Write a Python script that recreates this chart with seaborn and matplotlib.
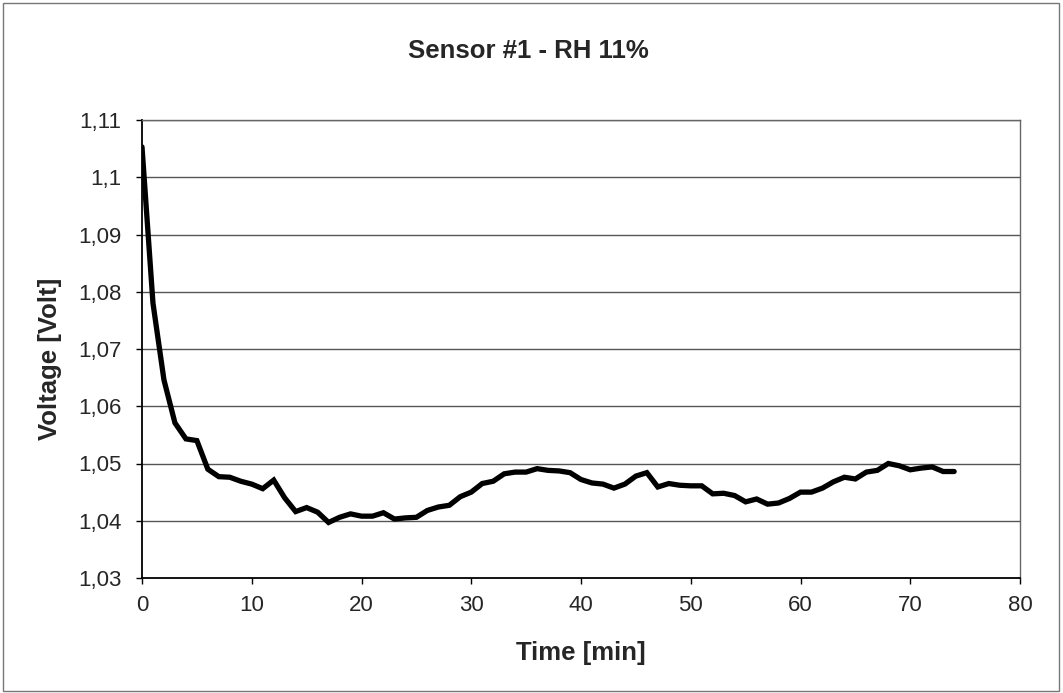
import matplotlib
matplotlib.use("Agg")
import matplotlib.pyplot as plt
import seaborn as sns
import pandas as pd
from matplotlib.ticker import FuncFormatter, MultipleLocator
from matplotlib.patches import Rectangle

time_min = list(range(0, 75))
voltage = [
    1.1053, 1.0780, 1.0646, 1.0571, 1.0543, 1.0540, 1.0490, 1.0477, 1.0476, 1.0469,
    1.0464, 1.0456, 1.0471, 1.0440, 1.0416, 1.0423, 1.0415, 1.0397, 1.0406, 1.0412,
    1.0408, 1.0408, 1.0414, 1.0403, 1.0405, 1.0406, 1.0418, 1.0424, 1.0427, 1.0442,
    1.0450, 1.0465, 1.0469, 1.0482, 1.0485, 1.0485, 1.0491, 1.0488, 1.0487, 1.0484,
    1.0472, 1.0466, 1.0464, 1.0457, 1.0464, 1.0478, 1.0484, 1.0459, 1.0465, 1.0462,
    1.0461, 1.0461, 1.0447, 1.0448, 1.0444, 1.0433, 1.0438, 1.0429, 1.0431, 1.0439,
    1.0450, 1.0450, 1.0457, 1.0468, 1.0476, 1.0473, 1.0485, 1.0488, 1.0500, 1.0496,
    1.0489, 1.0492, 1.0494, 1.0486, 1.0486,
]
title = "Sensor #1 - RH 11%"
xlabel = "Time [min]"
ylabel = "Voltage [Volt]"

sns.set_style("white")
plt.rcParams["font.family"] = ["Liberation Sans", "DejaVu Sans"]

df = pd.DataFrame({"time": time_min, "voltage": voltage})

W, H = 1063, 693
fig = plt.figure(figsize=(W / 100, H / 100), dpi=100)
fig.patch.set_facecolor("white")
ax = fig.add_axes([142 / W, 1 - 578 / H, (1020 - 142) / W, (578 - 120) / H])

# horizontal gridlines
for yv in [1.04, 1.05, 1.06, 1.07, 1.08, 1.09, 1.10, 1.11]:
    ax.axhline(yv, color="#555555", lw=1.0, zorder=1)

sns.lineplot(data=df, x="time", y="voltage", ax=ax, color="black", lw=3.8,
             zorder=3, solid_joinstyle="miter")

ax.set_xlim(0, 80)
ax.set_ylim(1.03, 1.11)
ax.xaxis.set_major_locator(MultipleLocator(10))
ax.yaxis.set_major_locator(MultipleLocator(0.01))


def fmt(v, pos):
    return f"{round(v, 2):g}".replace(".", ",")


ax.yaxis.set_major_formatter(FuncFormatter(fmt))
ax.xaxis.set_major_formatter(FuncFormatter(lambda v, p: f"{v:g}"))

ax.tick_params(axis="both", which="major", direction="out", length=4, width=1,
               color="black", labelsize=16, bottom=True, left=True)
ax.tick_params(axis="x", pad=8)
ax.tick_params(axis="y", pad=11)

for side in ["left", "bottom"]:
    ax.spines[side].set_color("black")
    ax.spines[side].set_linewidth(1.3)
for side in ["top", "right"]:
    ax.spines[side].set_color("#666666")
    ax.spines[side].set_linewidth(1.0)

ax.set_xlabel("")
ax.set_ylabel("")
fig.text(581 / W, 1 - 653 / H, xlabel, ha="center", va="center",
         fontsize=18.5, fontweight="bold")
fig.text(50 / W, 1 - 359 / H, ylabel, ha="center", va="center", rotation=90,
         fontsize=18.5, fontweight="bold")
fig.text(528 / W, 1 - 51 / H, title, ha="center", va="center",
         fontsize=18.5, fontweight="bold")

fig.patches.append(Rectangle((3 / W, 2 / H), 1056 / W, 688 / H,
                             transform=fig.transFigure, fill=False,
                             edgecolor="#777777", lw=1.0))

fig.savefig("out.png", dpi=100)
